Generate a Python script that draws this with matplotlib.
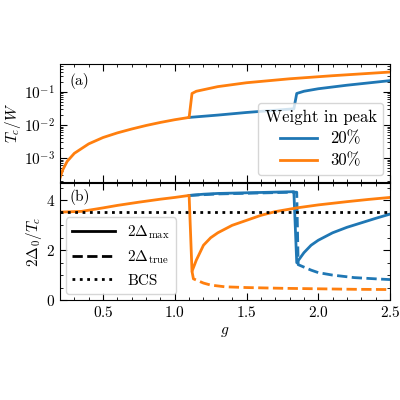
import matplotlib.pyplot as plt
import numpy as np

plt.rcParams['font.family'] = 'serif'
plt.rcParams['font.serif'] = ['cmr10', 'DejaVu Serif']
plt.rcParams['mathtext.fontset'] = 'cm'
plt.rcParams['axes.formatter.use_mathtext'] = True
plt.rcParams['font.size'] = 11

# top panel: Tc/W
g_tc_o = [0.2, 0.22, 0.25, 0.3, 0.4, 0.5, 0.6, 0.7, 0.8, 0.9, 1.0, 1.1, 1.12, 1.15, 1.3, 1.5, 1.8, 2.1, 2.5]
tc_o = [2.5e-4, 4.5e-4, 8e-4, 1.4e-3, 2.7e-3, 4.2e-3, 5.8e-3, 7.6e-3, 9.7e-3, 1.2e-2, 1.45e-2, 1.7e-2, 9e-2, 1.05e-1, 1.45e-1, 1.9e-1, 2.5e-1, 3.1e-1, 4.0e-1]
g_tc_b = [1.1, 1.3, 1.5, 1.7, 1.83, 1.85, 1.9, 2.0, 2.2, 2.5]
tc_b = [1.7e-2, 2.0e-2, 2.4e-2, 2.8e-2, 3.1e-2, 9e-2, 1.05e-1, 1.25e-1, 1.6e-1, 2.2e-1]

# bottom panel: 2Delta0/Tc
g_max_o = [0.2, 0.35, 0.5, 0.6, 0.75, 0.9, 1.0, 1.1, 1.12, 1.15, 1.2, 1.25, 1.3, 1.4, 1.5, 1.6, 1.7, 1.85, 2.0, 2.2, 2.35, 2.5]
max_o = [3.53, 3.56, 3.7, 3.8, 3.93, 4.05, 4.12, 4.2, 1.15, 1.6, 2.2, 2.5, 2.7, 3.0, 3.2, 3.4, 3.55, 3.7, 3.82, 3.95, 4.04, 4.12]
g_true_o = [1.12, 1.13, 1.2, 1.25, 1.35, 1.5, 1.75, 2.0, 2.25, 2.5]
true_o = [1.15, 0.85, 0.68, 0.6, 0.53, 0.5, 0.47, 0.45, 0.43, 0.42]
g_max_b = [1.1, 1.2, 1.3, 1.45, 1.6, 1.75, 1.83, 1.85, 1.9, 1.95, 2.0, 2.1, 2.2, 2.3, 2.4, 2.5]
max_b = [4.2, 4.25, 4.28, 4.3, 4.32, 4.34, 4.35, 1.5, 1.9, 2.2, 2.4, 2.7, 2.92, 3.1, 3.28, 3.45]
g_true_b = [1.1, 1.3, 1.6, 1.82, 1.85, 1.86, 1.95, 2.0, 2.1, 2.25, 2.4, 2.5]
true_b = [4.2, 4.26, 4.3, 4.33, 4.33, 1.42, 1.2, 1.1, 1.0, 0.9, 0.85, 0.82]
bcs = 3.53

blue = '#1f77b4'
orange = '#ff7f0e'

fig = plt.figure(figsize=(4, 4), dpi=100)
ax1 = fig.add_axes([0.15, 0.545, 0.825, 0.295])
ax2 = fig.add_axes([0.15, 0.25, 0.825, 0.2925], sharex=ax1)

ax1.semilogy(g_tc_b, tc_b, color=blue, lw=2, label='20%')
ax1.semilogy(g_tc_o, tc_o, color=orange, lw=2, label='30%')
ax1.set_ylim(1.9e-4, 0.7)
ax1.set_ylabel(r'$T_c/W$', labelpad=1)
ax1.text(0.03, 0.92, '(a)', transform=ax1.transAxes, va='top')
ax1.legend(title='Weight in peak', loc='lower right', fontsize=12, title_fontsize=12,
           fancybox=True, borderaxespad=0.4, handlelength=2.2, labelspacing=0.4)
plt.setp(ax1.get_xticklabels(), visible=False)

ax2.plot(g_true_b, true_b, color=blue, lw=2, ls='--')
ax2.plot(g_max_b, max_b, color=blue, lw=2)
ax2.plot(g_true_o, true_o, color=orange, lw=2, ls='--')
ax2.plot(g_max_o, max_o, color=orange, lw=2)
ax2.axhline(bcs, color='k', lw=2, ls=':')
h = [plt.Line2D([], [], color='k', lw=2, ls=s) for s in ['-', '--', ':']]
ax2.legend(h, [r'$2\Delta_{\rm max}$', r'$2\Delta_{\rm true}$', 'BCS'], loc='lower left',
           fontsize=11, borderaxespad=0.4, handlelength=2.8)
ax2.text(0.03, 0.95, '(b)', transform=ax2.transAxes, va='top')
ax2.set_ylim(0, 4.7)
ax2.set_yticks([0, 2, 4])
ax2.set_xlim(0.2, 2.5)
ax2.set_xticks([0.5, 1.0, 1.5, 2.0, 2.5])
ax2.set_xlabel(r'$g$')
ax2.set_ylabel(r'$2\Delta_0/T_c$', labelpad=1)
fig.align_ylabels([ax1, ax2])

for ax in (ax1, ax2):
    ax.minorticks_on()
    ax.tick_params(which='both', direction='in', top=True, right=True)
    ax.tick_params(which='major', length=5)
    ax.tick_params(which='minor', length=2.5)

fig.savefig('out.png')
